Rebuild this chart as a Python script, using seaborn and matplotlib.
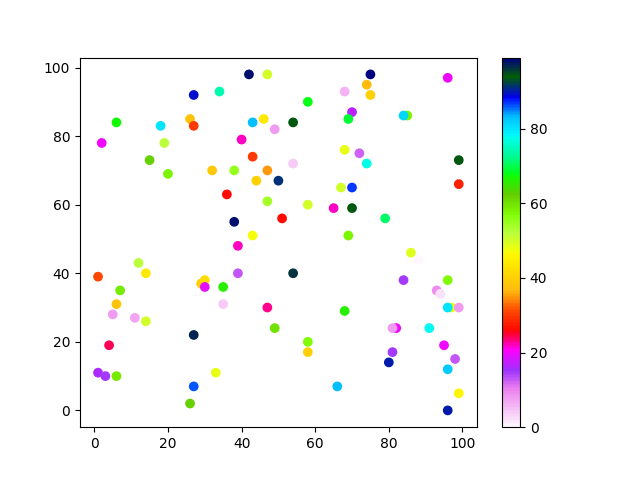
import matplotlib
matplotlib.use("Agg")
import matplotlib.pyplot as plt
import seaborn as sns

# scatter data (x, y, colour value)
x_vals = [27, 42, 47, 34, 58, 68, 74, 75, 75, 96,
          70, 26, 27, 43, 46, 54, 69, 85, 84, 6,
          18, 49, 2, 19, 40, 68, 72, 15, 43, 74,
          54, 99, 20, 32, 38, 47, 44, 50, 67, 70,
          99, 36, 47, 58, 65, 70, 51, 79, 38, 43,
          69, 39, 86, 12, 14, 1, 54, 39, 84, 96,
          7, 29, 30, 30, 35, 93, 6, 35, 5, 11,
          14, 47, 68, 97, 96, 99, 49, 82, 81, 91,
          27, 58, 4, 95, 58, 81, 98, 80, 96, 1,
          3, 6, 33, 27, 66, 99, 26, 96, 88, 94]
y_vals = [92, 98, 98, 93, 90, 93, 95, 98, 92, 97,
          87, 85, 83, 84, 85, 84, 85, 86, 86, 84,
          83, 82, 78, 78, 79, 76, 75, 73, 74, 72,
          72, 73, 69, 70, 70, 70, 67, 67, 65, 65,
          66, 63, 61, 60, 59, 59, 56, 56, 55, 51,
          51, 48, 46, 43, 40, 39, 40, 40, 38, 38,
          35, 37, 38, 36, 36, 35, 31, 31, 28, 27,
          26, 30, 29, 30, 30, 30, 24, 24, 24, 24,
          22, 20, 19, 19, 17, 17, 15, 14, 12, 11,
          10, 10, 11, 7, 7, 5, 2, 0, 44, 34]
c_vals = [89, 98, 50, 74, 68, 6, 37, 99, 40, 20,
          17, 38, 30, 83, 44, 94, 69, 58, 81, 67,
          80, 8, 20, 52, 22, 48, 12, 62, 30, 77,
          4, 94, 58, 39, 55, 35, 40, 91, 50, 87,
          28, 26, 54, 50, 22, 94, 26, 71, 98, 47,
          58, 22, 49, 52, 44, 31, 96, 13, 15, 57,
          59, 40, 42, 19, 66, 9, 38, 4, 8, 7,
          50, 23, 66, 48, 80, 8, 60, 20, 8, 78,
          97, 57, 24, 20, 40, 15, 13, 90, 82, 16,
          15, 59, 48, 86, 83, 46, 62, 90, 0, 2]

fig, ax = plt.subplots(figsize=(6.4, 4.8), dpi=100)
sns.scatterplot(x=x_vals, y=y_vals, c=c_vals, cmap="gist_ncar_r",
                s=36, linewidth=1, edgecolor="face", ax=ax)
fig.colorbar(ax.collections[0], ax=ax)

plt.savefig("out.png")
